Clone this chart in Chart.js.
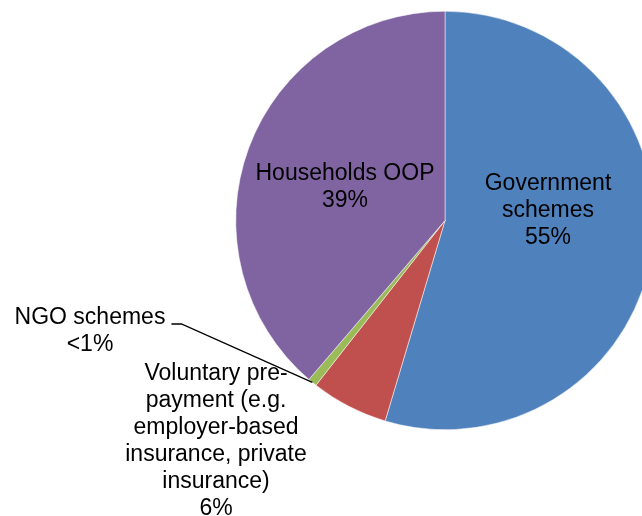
<!DOCTYPE html>
<html>
<head>
<meta charset="utf-8">
<script src="https://cdn.jsdelivr.net/npm/chart.js@4/dist/chart.umd.min.js"></script>
<style>
  html, body { margin: 0; padding: 0; background: #fff; overflow: hidden; }
  #wrap { position: absolute; left: 0; top: 0; width: 660px; height: 516px; }
</style>
</head>
<body>
<div id="wrap"><canvas id="pie" width="660" height="516"></canvas></div>
<script>
// Health spending by financing scheme (share of total, %)
var SCHEMES = ['Government schemes', 'Voluntary pre-payment', 'NGO schemes', 'Households OOP'];
var SHARES  = [55, 6, 0.7, 39];
var SHARE_TEXT = ['55%', '6%', '<1%', '39%'];
var COLORS  = ['#4F81BD', '#C0504D', '#9BBB59', '#8064A2'];

// label text lines (last line is the share)
var LABEL_LINES = [
  ['Government', 'schemes'],
  ['Voluntary pre-', 'payment (e.g.', 'employer-based', 'insurance, private', 'insurance)'],
  ['NGO schemes'],
  ['Households OOP']
];
// label centres (x, y of first line) and whether a leader line is drawn
var LABEL_POS = [[548, 184], [216, 374], [90, 318], [345, 174]];
var LEADER = [false, false, true, false];
var LINE_H = 27;

var labelPlugin = {
  id: 'pieLabels',
  afterDraw: function (chart) {
    var ctx = chart.ctx;
    var arcs = chart.getDatasetMeta(0).data;
    ctx.save();
    ctx.font = '23px "Liberation Sans", Arial, sans-serif';
    ctx.fillStyle = '#000';
    ctx.textAlign = 'center';
    ctx.textBaseline = 'middle';
    LABEL_LINES.forEach(function (lines, i) {
      var p = LABEL_POS[i];
      var all = lines.concat([SHARE_TEXT[i]]);
      all.forEach(function (t, k) { ctx.fillText(t, p[0], p[1] + k * LINE_H); });
      if (LEADER[i]) {
        var a = arcs[i].getProps(['x', 'y', 'startAngle', 'endAngle', 'outerRadius'], true);
        var mid = (a.startAngle + a.endAngle) / 2;
        var ex = a.x + Math.cos(mid) * a.outerRadius;
        var ey = a.y + Math.sin(mid) * a.outerRadius;
        var w = ctx.measureText(lines[0]).width;
        var sx = p[0] + w / 2 + 6, sy = p[1] + 6;
        ctx.beginPath();
        ctx.strokeStyle = '#000';
        ctx.lineWidth = 1.3;
        ctx.moveTo(sx, sy);
        ctx.lineTo(sx + 10, sy);
        ctx.lineTo(ex, ey);
        ctx.stroke();
      }
    });
    ctx.restore();
  }
};

new Chart(document.getElementById('pie'), {
  type: 'pie',
  data: {
    labels: SCHEMES,
    datasets: [{ data: SHARES, backgroundColor: COLORS, borderColor: '#fff', borderWidth: 0.5 }]
  },
  options: {
    responsive: false,
    animation: false,
    devicePixelRatio: 1,
    layout: { padding: { left: 235, right: 5, top: 11, bottom: 86 } },
    plugins: { legend: { display: false }, tooltip: { enabled: false } }
  },
  plugins: [labelPlugin]
});
</script>
</body>
</html>
